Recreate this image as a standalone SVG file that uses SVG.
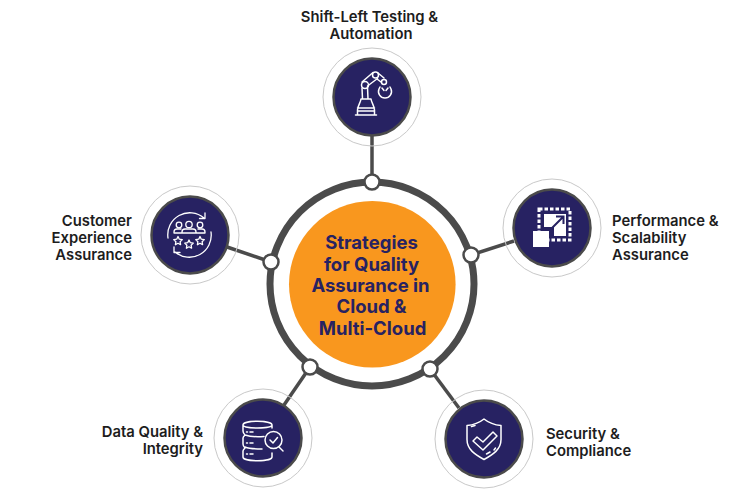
<svg xmlns="http://www.w3.org/2000/svg" width="750" height="500" viewBox="0 0 750 500">
<style>
.halo{fill:none;stroke:#c9c9c9;stroke-width:1}
.disc{fill:#272262;stroke:#4b4b4b;stroke-width:2.5}
.link{stroke:#4b4b4b;stroke-width:3.5;fill:none}
.dot{fill:#fff;stroke:#4b4b4b;stroke-width:2.5}
.ic{fill:none;stroke:#fff;stroke-width:1.500;stroke-linecap:round;stroke-linejoin:round}
.thin{stroke-width:1.300}
.icf{fill:#fff;stroke:none}
.lb{font-family:Inter,"Liberation Sans",sans-serif;font-size:14.800px;font-weight:600;fill:#1d1d1d}
.ct{font-family:Inter,"Liberation Sans",sans-serif;font-size:18.500px;font-weight:700;fill:#272262;text-anchor:middle}
</style>
<rect width="750" height="500" fill="#fff"/>
<g id="connectors">
<line class="link" x1="372" y1="135" x2="372" y2="182"/>
<line class="link" x1="514" y1="241" x2="471" y2="255"/>
<line class="link" x1="227" y1="247" x2="271" y2="262"/>
<line class="link" x1="284" y1="405" x2="310" y2="367"/>
<line class="link" x1="459" y1="408" x2="430" y2="369"/>
</g>
<g id="center">
<circle cx="372" cy="284" r="102" fill="#fff" stroke="#4b4b4b" stroke-width="7"/>
<circle cx="372.300" cy="284.300" r="83.300" fill="#f9971e"/>
<text class="ct" x="371.500" y="248.500">Strategies</text>
<text class="ct" x="371.500" y="270.500">for Quality</text>
<text class="ct" x="370.500" y="291.500">Assurance in</text>
<text class="ct" x="371.500" y="313">Cloud &amp;</text>
<text class="ct" x="372.500" y="334.500">Multi-Cloud</text>
<circle class="dot" cx="372" cy="182" r="7.500"/>
<circle class="dot" cx="471" cy="255" r="7.500"/>
<circle class="dot" cx="271" cy="262" r="7.500"/>
<circle class="dot" cx="310" cy="367" r="7.500"/>
<circle class="dot" cx="430" cy="369" r="7.500"/>
</g>
<g id="node-shift-left">
<circle class="halo" cx="372" cy="97" r="49"/>
<circle class="disc" cx="372" cy="97" r="38.500"/>
<path class="ic" d="M355.500 115h21M357.500 115v-5c0-4 3-7 3.500-11h10c.5 4 3.500 7 3.500 11v5M357.500 108h17M357.500 111h17M362.500 99l-.5-11M368 99l-.5-12M362 82l11-9.500M367.500 86l10-7.500M378 73l6 5M377 79l4 3"/>
<circle class="ic" cx="365" cy="85" r="3.500"/>
<circle class="ic" cx="375.500" cy="75" r="3"/>
<circle class="ic" cx="384" cy="82" r="2.500"/>
<path class="ic" d="M380 87l-1 2a6.500 6.500 0 1 0 12 0l-1-2M382 88l2 2.500M388 88l-2 2.500"/>
<text class="lb" x="369.500" y="22" text-anchor="middle">Shift-Left Testing &amp;</text>
<text class="lb" x="371" y="39" text-anchor="middle">Automation</text>
</g>
<g id="node-performance">
<circle class="halo" cx="552" cy="228" r="49"/>
<circle class="disc" cx="552" cy="228" r="38.500"/>
<rect x="539" y="209" width="31" height="31" fill="none" stroke="#fff" stroke-width="3" stroke-dasharray="3.500 2"/>
<path class="icf" d="M544 214h22v22h-12v-9h-10z"/>
<rect class="icf" x="533" y="231" width="16" height="16"/>
<path d="M551 229l12-12M556 216.500h7.500v7.500" fill="none" stroke="#272262" stroke-width="2"/>
<text class="lb" x="612" y="226">Performance &amp;</text>
<text class="lb" x="612" y="243">Scalability</text>
<text class="lb" x="612" y="260">Assurance</text>
</g>
<g id="node-security">
<circle class="halo" cx="484" cy="439" r="49"/>
<circle class="disc" cx="484" cy="439" r="38.500"/>
<path class="ic" d="M484 419c5 4 11 6 17 6.500v14c0 10-8 15-17 20c-9-5-17-10-17-20v-14c6-.5 12-2.500 17-6.500z"/>
<path class="ic" d="M475 425.500l-3.500 1M490 452l-3.500 2M495.500 448l-1.500 2"/>
<path class="ic" d="M473 441l4-4 6 5 10-10 4 4-14 14z"/>
<text class="lb" x="546" y="439">Security &amp;</text>
<text class="lb" x="546" y="456">Compliance</text>
</g>
<g id="node-data">
<circle class="halo" cx="263" cy="438" r="49"/>
<circle class="disc" cx="263" cy="438" r="38.500"/>
<path class="ic" d="M272 428v-3c0-5-29-5-29 0v6c0 2 1 3 2 4c-1 1-2 2-2 3v6c0 2 1 3 2 4c-1 1-2 2-2 3v6c0 5 29 5 29 0v-4M243 425c0 4 29 4 29 0M245 435c6 2 12 2 19 1.500M245 447c5 2 11 2 17 2"/>
<path class="ic" d="M246.500 432h1M250 432h3M246.500 443h1M250 443h3M246.500 454h1M250 454h3"/>
<circle class="ic" cx="273.500" cy="440" r="8.500"/>
<path class="ic" d="M270 440l3 3 4.500-5.500"/>
<path class="ic" d="M279 447l4 4" stroke-width="2.500"/>
<text class="lb" x="203" y="437" text-anchor="end">Data Quality &amp;</text>
<text class="lb" x="203" y="454" text-anchor="end">Integrity</text>
</g>
<g id="node-customer">
<circle class="halo" cx="190" cy="235" r="49"/>
<circle class="disc" cx="190" cy="235" r="38.500"/>
<path class="ic thin" d="M168 238a22 22 0 0 1 36-20M205 213v5.500h-5.500M211 232a22 22 0 0 1-36 20M174 247v5.500h6"/>
<path class="ic thin" d="M174 233v-1a3 3 0 0 1 3-3h4M198 229h4a3 3 0 0 1 3 3v1M182 233v-1a3 3 0 0 1 3-3h8a3 3 0 0 1 3 3v1M174 233h31"/>
<circle class="ic thin" cx="179" cy="225" r="2.800"/>
<circle class="ic thin" cx="189" cy="224.500" r="3.200"/>
<circle class="ic thin" cx="200" cy="225" r="2.800"/>
<path class="ic thin" d="M178 236.500l1.300 2.700 3 .4-2.200 2.100.5 3-2.600-1.400-2.600 1.400.5-3-2.200-2.100 3-.4z"/>
<path class="ic thin" d="M189 240l1.300 2.700 3 .4-2.200 2.100.5 3-2.600-1.400-2.600 1.400.5-3-2.200-2.100 3-.4z"/>
<path class="ic thin" d="M200 236.500l1.300 2.700 3 .4-2.200 2.100.5 3-2.600-1.400-2.600 1.400.5-3-2.200-2.100 3-.4z"/>
<text class="lb" x="132" y="226" text-anchor="end">Customer</text>
<text class="lb" x="132" y="243" text-anchor="end">Experience</text>
<text class="lb" x="132" y="260" text-anchor="end">Assurance</text>
</g>
</svg>
